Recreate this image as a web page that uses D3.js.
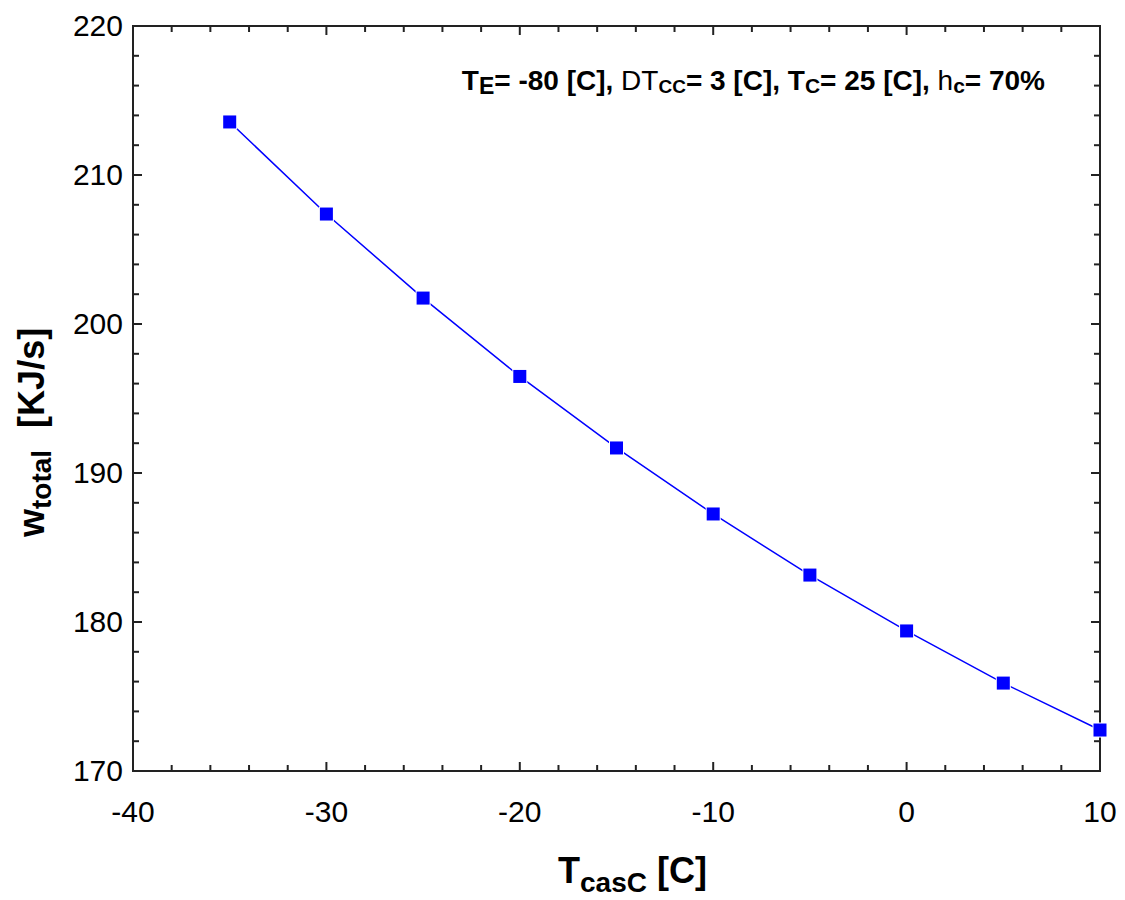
<!DOCTYPE html>
<html>
<head>
<meta charset="utf-8">
<script src="https://cdn.jsdelivr.net/npm/d3@7"></script>
<style>
  body { margin: 0; background: #fff; }
  svg text { font-family: "Liberation Sans", Arial, sans-serif; }
</style>
</head>
<body>
<svg id="chart" width="1125" height="900"></svg>
<script>
// данные с графика
const tCasc = [-35, -30, -25, -20, -15, -10, -5, 0, 5, 10];
const wTotal = [213.56, 207.38, 201.74, 196.48, 191.68, 187.25, 183.15, 179.4, 175.9, 172.75];
const xTicks = [-40, -30, -20, -10, 0, 10];
const yTicks = [170, 180, 190, 200, 210, 220];

const svg = d3.select("#chart");
const margin = { left: 133, right: 25, top: 26, bottom: 129 };
const width = 1125 - margin.left - margin.right;
const height = 900 - margin.top - margin.bottom;

const g = svg.append("g").attr("transform", `translate(${margin.left},${margin.top})`);

const x = d3.scaleLinear().domain([-40, 10]).range([0, width]);
const y = d3.scaleLinear().domain([170, 220]).range([height, 0]);

// рамка
g.append("rect")
  .attr("width", width)
  .attr("height", height)
  .attr("fill", "none")
  .attr("stroke", "#222")
  .attr("stroke-width", 2);

// засечки внутрь: основные и промежуточные
const xMinor = d3.range(-40, 10.01, 2);
const yMinor = d3.range(170, 220.01, 2);

function tickLen(v, majors) { return majors.includes(v) ? 9 : 6; }

const ticksG = g.append("g").attr("stroke", "#222").attr("stroke-width", 2);
xMinor.forEach((v) => {
  const L = tickLen(v, xTicks);
  ticksG.append("line").attr("x1", x(v)).attr("x2", x(v)).attr("y1", height).attr("y2", height - L);
  ticksG.append("line").attr("x1", x(v)).attr("x2", x(v)).attr("y1", 0).attr("y2", L);
});
yMinor.forEach((v) => {
  const L = tickLen(v, yTicks);
  ticksG.append("line").attr("x1", 0).attr("x2", L).attr("y1", y(v)).attr("y2", y(v));
  ticksG.append("line").attr("x1", width).attr("x2", width - L).attr("y1", y(v)).attr("y2", y(v));
});

// подписи делений
g.selectAll(".xt").data(xTicks).enter().append("text")
  .attr("x", (d) => x(d))
  .attr("y", height + 51)
  .attr("text-anchor", "middle")
  .attr("font-size", 30)
  .text((d) => d);

g.selectAll(".yt").data(yTicks).enter().append("text")
  .attr("x", -10)
  .attr("y", (d) => y(d) + 10)
  .attr("text-anchor", "end")
  .attr("font-size", 30)
  .text((d) => d);

// линия
const line = d3.line().x((d, i) => x(tCasc[i])).y((d) => y(d));
g.append("path")
  .datum(wTotal)
  .attr("d", line)
  .attr("fill", "none")
  .attr("stroke", "#0000ff")
  .attr("stroke-width", 1.5);

// маркеры
g.selectAll(".pt").data(wTotal).enter().append("rect")
  .attr("x", (d, i) => x(tCasc[i]) - 6.5)
  .attr("y", (d) => y(d) - 6.5)
  .attr("width", 13)
  .attr("height", 13)
  .attr("fill", "#0000ff")
  .attr("stroke", "#fff")
  .attr("stroke-width", 2)
  .attr("paint-order", "stroke");

// заголовок оси X
const xl = svg.append("text")
  .attr("x", 558)
  .attr("y", 883)
  .attr("text-anchor", "start")
  .attr("font-size", 36)
  .attr("font-weight", "bold");
xl.append("tspan").text("T");
xl.append("tspan").attr("font-size", 28).attr("dy", 9).text("casC");
xl.append("tspan").attr("dy", -9).text(" [C]");

// заголовок оси Y
const yl = svg.append("text")
  .attr("transform", "translate(44,537) rotate(-90)")
  .attr("text-anchor", "start")
  .attr("font-size", 36)
  .attr("font-weight", "bold");
yl.append("tspan").text("w");
yl.append("tspan").attr("font-size", 28).attr("dy", 7).text("total");
yl.append("tspan").attr("dy", -7).attr("dx", 22).text("[KJ/s]");

// подпись с параметрами
const ann = svg.append("text")
  .attr("x", 1045)
  .attr("y", 90)
  .attr("text-anchor", "end")
  .attr("font-size", 28)
  .attr("font-weight", "bold");
ann.append("tspan").text("T");
ann.append("tspan").attr("font-size", 23).attr("dy", 4).text("E");
ann.append("tspan").attr("dy", -4).text("= -80 [C], ");
ann.append("tspan").attr("font-weight", "normal").text("DT");
ann.append("tspan").attr("font-size", 19).attr("dy", 3).text("CC");
ann.append("tspan").attr("dy", -3).text("= 3 [C], T");
ann.append("tspan").attr("font-size", 21).attr("dy", 3).text("C");
ann.append("tspan").attr("dy", -3).text("= 25 [C], ");
ann.append("tspan").attr("font-weight", "normal").text("h");
ann.append("tspan").attr("font-size", 21).attr("dy", 3).text("c");
ann.append("tspan").attr("dy", -3).text("= 70%");
</script>
</body>
</html>
